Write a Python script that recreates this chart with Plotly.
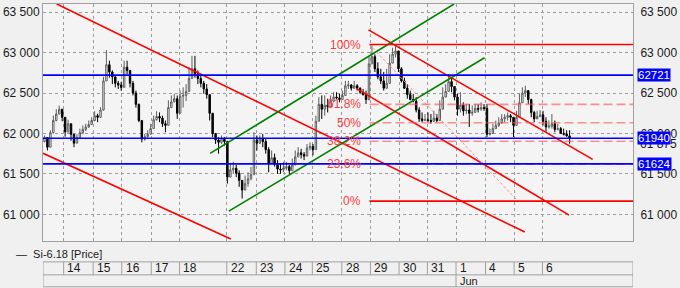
import plotly.graph_objects as go

# ---------------- data ----------------
# hourly bars (bar index), Si-6.18
bar_high = [61975,61935,62040,62220,62300,62345,62290,62190,62170,62100,61990,61990,62060,62100,62120,62160,62200,62275,62245,62325,
            62700,63030,62900,62780,62700,62650,62640,62900,62900,62780,62650,62530,62370,62160,61995,62040,62120,62220,62275,62260,
            62220,62160,62410,62470,62490,62470,62530,62570,62610,62820,62960,62960,62780,62735,62650,62610,62470,62200,61975,61955,
            61975,61955,61910,61630,61650,61610,61545,61420,61480,61520,61585,62015,61975,61975,61995,61935,61830,61790,61750,61670,
            61630,61650,61650,61610,61690,61790,61830,61810,61770,61870,61890,61870,62220,62450,62470,62470,62430,62470,62510,62510,
            62490,62530,62650,62650,62610,62650,62610,62570,62550,62530,62960,63090,62980,62880,62800,62760,62800,62980,63060,63080,
            62980,62820,62690,62610,62530,62490,62450,62325,62260,62240,62260,62240,62280,62240,62410,62570,62610,62735,62690,62570,
            62490,62510,62385,62365,62365,62345,62365,62365,62385,62365,62365,62060,62120,62160,62200,62240,62240,62260,62240,62200,
            62280,62490,62570,62590,62530,62430,62280,62280,62290,62280,62200,62160,62240,62160,62120,62080,62060,62040,62040]
bar_low = [61890,61790,61830,62000,62150,62240,62150,61960,62010,61910,61830,61900,61950,61990,62030,62070,62110,62150,62140,62190,
           62280,62700,62690,62610,62570,62550,62530,62610,62730,62570,62470,62320,62140,61890,61910,61950,61990,62100,62160,62140,
           62080,62015,62140,62320,62385,62180,62280,62320,62400,62530,62730,62690,62610,62570,62490,62430,62160,61955,61870,61750,
           61870,61850,61380,61460,61500,61460,61340,61195,61300,61340,61420,61545,61790,61870,61830,61750,61520,61630,61590,61500,
           61500,61520,61545,61500,61545,61630,61710,61690,61670,61750,61790,61730,61800,62160,62180,62220,62260,62345,62385,62430,
           62385,62430,62510,62550,62530,62550,62530,62490,62470,62365,62410,62880,62760,62670,62610,62530,62550,62780,62920,62940,
           62760,62630,62550,62430,62410,62385,62260,62140,62140,62160,62140,62120,62160,62140,62180,62365,62470,62550,62510,62410,
           62220,62260,62220,62240,62080,62220,62260,62260,62280,62280,61955,61975,62015,62060,62080,62120,62140,62160,62140,61955,
           62100,62240,62430,62450,62365,62200,62140,62180,62200,62100,62015,62060,62060,62015,62040,61995,61975,61960,61873]
bar_close = [61950,61830,62010,62160,62240,62300,62200,62020,62120,61990,61880,61950,62010,62050,62080,62110,62160,62220,62200,62290,
             62650,62850,62760,62700,62620,62600,62570,62820,62780,62620,62500,62360,62160,61930,61960,61990,62060,62170,62210,62190,
             62120,62100,62320,62390,62430,62250,62460,62470,62520,62680,62800,62740,62680,62620,62550,62480,62250,62000,61920,61890,
             61930,61900,61460,61550,61570,61510,61420,61300,61380,61440,61490,61920,61880,61930,61900,61800,61630,61700,61620,61560,
             61550,61570,61590,61540,61610,61710,61760,61740,61720,61820,61840,61800,62150,62360,62300,62350,62330,62400,62450,62440,
             62420,62470,62590,62600,62560,62590,62560,62510,62480,62420,62860,62950,62800,62700,62650,62560,62620,62870,62980,63020,
             62800,62650,62560,62480,62420,62400,62290,62180,62160,62170,62160,62150,62190,62160,62300,62450,62520,62640,62580,62450,
             62300,62350,62280,62290,62250,62260,62310,62300,62320,62310,61990,62000,62060,62100,62130,62180,62200,62220,62200,62100,
             62200,62380,62500,62530,62420,62260,62180,62210,62230,62150,62080,62090,62120,62050,62060,62000,61990,61970,61940]
first_open = 61900

# session (day) starts on the bar-index axis and their labels
day_start = [7, 17, 26.7, 36.7, 46.3, 62.3, 72.3, 82, 91.3, 101.3, 111, 120.7, 130.3, 140, 150, 159.7, 169.3]
day_labels = ['14', '15', '16', '17', '18', '22', '23', '24', '25', '28', '29', '30', '31', '1', '4', '5', '6']
month_start = [140]
month_labels = ['Jun']

# y ticks
y_tick_vals = [61000, 61500, 62000, 62500, 63000, 63500]
y_tick_text = ['61 000', '61 500', '62 000', '62 500', '63 000', '63 500']

# horizontal levels (blue) and their labels
blue_levels = [62721, 61940, 61624]
blue_labels = ['62721', '61940', '61624']
extra_price_label = [61875]
extra_price_text = ['61 875']

# Fibonacci retracement
fib_high = 63100
fib_low = 61163
fib_ratios = [1.0, 0.618, 0.5, 0.382, 0.236, 0.0]
fib_text = ['100%', '61.8%', '50%', '38.2%', '23.6%', '0%']
fib_x_start = 110.67
fib_x_low = 161

# trend lines (bar index, price)
red_x = [[4.67, 163.33], [0, 63.67], [110.33, 186.33], [106.33, 178.33]]
red_y = [[63601, 60781], [61754, 60695], [63281, 61680], [62554, 60990]]
green_x = [[56.67, 139.33], [63, 149.67]]
green_y = [[61754, 63601], [61039, 62936]]

x_range = [0, 200]
y_range = [60670, 63601]

# ---------------- figure ----------------
n = len(bar_close)
xs = [i + 0.5 for i in range(n)]
opens = [first_open] + bar_close[:-1]
highs = [max(h, o, c) for h, o, c in zip(bar_high, opens, bar_close)]
lows = [min(l, o, c) for l, o, c in zip(bar_low, opens, bar_close)]

FONT = 'Liberation Sans, Arial, sans-serif'
fig = go.Figure()
fig.add_trace(go.Candlestick(
    x=xs, open=opens, high=highs, low=lows, close=bar_close,
    increasing=dict(line=dict(color='#5e5e5e', width=1), fillcolor='#ffffff'),
    decreasing=dict(line=dict(color='#000000', width=1), fillcolor='#000000'),
    whiskerwidth=0, hoverinfo='skip', name='Si-6.18 [Price]'))

for lx, ly in zip(red_x, red_y):
    fig.add_trace(go.Scatter(x=lx, y=ly, mode='lines', line=dict(color='#ff0000', width=1.6), hoverinfo='skip'))
for lx, ly in zip(green_x, green_y):
    fig.add_trace(go.Scatter(x=lx, y=ly, mode='lines', line=dict(color='#008000', width=1.6), hoverinfo='skip'))

# fib diagonal
fig.add_trace(go.Scatter(x=[fib_x_start, fib_x_low], y=[fib_high, fib_low], mode='lines',
                         line=dict(color='#ff8c8c', width=1, dash='3px,2px'), hoverinfo='skip'))
# fib levels
for r in fib_ratios:
    lvl = fib_low + r * (fib_high - fib_low)
    solid = r in (0.0, 1.0)
    fig.add_trace(go.Scatter(x=[fib_x_start, x_range[1]], y=[lvl, lvl], mode='lines',
                             line=dict(color='#ff0000' if solid else 'rgba(255,80,80,0.62)',
                                       width=1.6,
                                       dash='solid' if solid else '9px,4px'),
                             hoverinfo='skip'))
# blue levels on right axis
for lvl in blue_levels:
    fig.add_trace(go.Scatter(x=x_range, y=[lvl, lvl], mode='lines', yaxis='y2',
                             line=dict(color='#0000ff', width=1.6), hoverinfo='skip'))

annotations = []
shapes = []
for r, t in zip(fib_ratios, fib_text):
    lvl = fib_low + r * (fib_high - fib_low)
    annotations.append(dict(x=fib_x_start - 2.3, y=lvl, xref='x', yref='y', text=t, showarrow=False,
                            xanchor='right', yanchor='middle',
                            font=dict(family=FONT, size=12, color='#ff3c3c')))
for v, t in zip(extra_price_label, extra_price_text):
    annotations.append(dict(x=1, y=v, xref='paper', yref='y', text=t, showarrow=False,
                            xanchor='left', yanchor='middle', xshift=5,
                            font=dict(family=FONT, size=12, color='#1a1a1a')))
for v, t in zip(blue_levels, blue_labels):
    annotations.append(dict(x=1, y=v, xref='paper', yref='y', text=t, showarrow=False,
                            xanchor='left', yanchor='middle', xshift=4, bgcolor='#0000ff', borderpad=0,
                            font=dict(family=FONT, size=11.5, color='#ffffff')))

# bottom date strip
strip_top, strip_mid, strip_bot = -0.0882, -0.1429, -0.1933
row1_y, row2_y = -0.1155, -0.168
line_style = dict(color='#a0a0a0', width=1)
for yy in (strip_top, strip_mid, strip_bot):
    shapes.append(dict(type='line', xref='x', yref='paper', x0=x_range[0], x1=x_range[1], y0=yy, y1=yy, line=line_style))
for xx in x_range:
    shapes.append(dict(type='line', xref='x', yref='paper', x0=xx, x1=xx, y0=strip_top, y1=strip_bot, line=line_style))
for xx, t in zip(day_start, day_labels):
    shapes.append(dict(type='line', xref='x', yref='paper', x0=xx, x1=xx, y0=strip_top, y1=strip_mid, line=line_style))
    annotations.append(dict(x=xx + 0.6, y=row1_y, xref='x', yref='paper', text=t, showarrow=False,
                            xanchor='left', yanchor='middle', font=dict(family=FONT, size=12, color='#1a1a1a')))
for xx, t in zip(month_start, month_labels):
    shapes.append(dict(type='line', xref='x', yref='paper', x0=xx, x1=xx, y0=strip_mid, y1=strip_bot, line=line_style))
    annotations.append(dict(x=xx + 0.6, y=row2_y, xref='x', yref='paper', text=t, showarrow=False,
                            xanchor='left', yanchor='middle', font=dict(family=FONT, size=11, color='#1a1a1a')))

# legend-like caption
annotations.append(dict(x=-0.05, y=-0.0546, xref='paper', yref='paper', text='—  Si-6.18 [Price]', showarrow=False,
                        xanchor='left', yanchor='middle', font=dict(family=FONT, size=11, color='#1a1a1a')))

axis_common = dict(showline=True, linecolor='#a0a0a0', linewidth=1, zeroline=False, ticks='', fixedrange=True)
fig.update_layout(
    width=680, height=288,
    margin=dict(l=39, r=41, t=3, b=47, pad=0),
    paper_bgcolor='#f0f0f0', plot_bgcolor='#f4f4f4',
    showlegend=False,
    font=dict(family=FONT, size=12, color='#1a1a1a'),
    xaxis=dict(range=x_range, tickvals=day_start, showticklabels=False, showgrid=True,
               gridcolor='#9c9c9c', griddash='dot', gridwidth=1, mirror=True,
               rangeslider=dict(visible=False), **axis_common),
    yaxis=dict(range=y_range, tickvals=y_tick_vals, ticktext=y_tick_text, side='left', showgrid=True,
               gridcolor='#9c9c9c', griddash='dot', gridwidth=1, mirror=True,
               tickfont=dict(family=FONT, size=12, color='#1a1a1a'), **axis_common),
    yaxis2=dict(range=y_range, tickvals=y_tick_vals, ticktext=y_tick_text, side='right', overlaying='y',
                showgrid=False, ticklabelstandoff=4,
                tickfont=dict(family=FONT, size=12, color='#1a1a1a'), **axis_common),
    annotations=annotations,
    shapes=shapes,
)

fig.write_html('out.html')
